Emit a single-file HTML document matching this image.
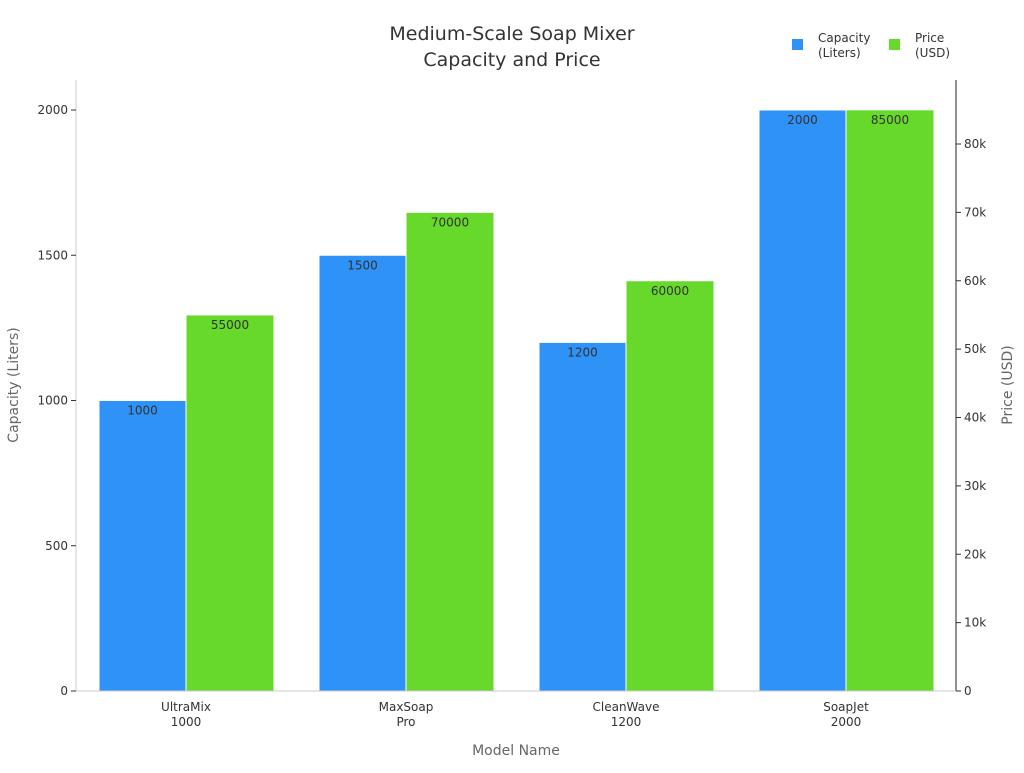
<!DOCTYPE html>
<html><head><meta charset="utf-8"><style>
body{margin:0;background:#fff;}
svg text{font-family:"DejaVu Sans","Liberation Sans",sans-serif;}
</style></head><body>
<svg id="c" width="1024" height="768" xmlns="http://www.w3.org/2000/svg">
<text x="512" y="40" text-anchor="middle" font-size="19" fill="#333">Medium-Scale Soap Mixer</text>
<text x="512" y="66" text-anchor="middle" font-size="19" fill="#333">Capacity and Price</text>
<g>
<rect x="792" y="39" width="11" height="11" fill="#2f92f7"/>
<text x="818" y="42" font-size="12" fill="#333">Capacity</text>
<text x="818" y="57" font-size="12" fill="#333">(Liters)</text>
<rect x="889" y="39" width="11" height="11" fill="#66d92a"/>
<text x="915" y="42" font-size="12" fill="#333">Price</text>
<text x="915" y="57" font-size="12" fill="#333">(USD)</text>
</g>
<g id="plot"></g>
<text x="516" y="755" text-anchor="middle" font-size="14" fill="#666">Model Name</text>
<text transform="translate(18,385) rotate(-90)" text-anchor="middle" font-size="14" fill="#666">Capacity (Liters)</text>
<text transform="translate(1012,385) rotate(-90)" text-anchor="middle" font-size="14" fill="#666">Price (USD)</text>
</svg>
<script>
const categories=[["UltraMix","1000"],["MaxSoap","Pro"],["CleanWave","1200"],["SoapJet","2000"]];
const capacity=[1000,1500,1200,2000];
const price=[55000,70000,60000,85000];
const leftTicks=[0,500,1000,1500,2000];
const rightTicks=[0,10000,20000,30000,40000,50000,60000,70000,80000];
const NS="http://www.w3.org/2000/svg";
const g=document.getElementById('plot');
const x0=76,x1=956,yB=691;
const yL=v=>yB-v*(581/2000);
const yR=v=>yB-v*(547/80000);
const band=(x1-x0)/categories.length;
function el(t,a,txt){const e=document.createElementNS(NS,t);for(const k in a)e.setAttribute(k,a[k]);if(txt!==undefined)e.textContent=txt;g.appendChild(e);return e;}
categories.forEach((c,i)=>{
 const cx=x0+band*(i+0.5);
 let b=el('rect',{x:cx-87,y:yL(capacity[i]),width:87,height:yB-yL(capacity[i]),fill:'#2f92f7',stroke:'#fff','stroke-width':1});
 
 
 let t=el('text',{x:cx-43.5,y:yL(capacity[i])+14,'text-anchor':'middle','font-size':12,fill:'#333'},String(capacity[i]));
 
 
 let b2=el('rect',{x:cx,y:yR(price[i]),width:88,height:yB-yR(price[i]),fill:'#66d92a',stroke:'#fff','stroke-width':1});
 
 
 let t2=el('text',{x:cx+44,y:yR(price[i])+14,'text-anchor':'middle','font-size':12,fill:'#333'},String(price[i]));
 
 
 c.forEach((s,j)=>{let l=el('text',{x:cx,y:711+j*15,'text-anchor':'middle','font-size':12,fill:'#333'},s);
  
  });
});
let a=el('line',{x1:x0,y1:80,x2:x0,y2:yB,stroke:'#ccc'});


let a2=el('line',{x1:x1,y1:80,x2:x1,y2:yB,stroke:'#222'});


let a3=el('line',{x1:x0,y1:yB,x2:x1,y2:yB,stroke:'#ccc'});


leftTicks.forEach(v=>{const y=yL(v);
 el('line',{x1:x0-5,y1:y,x2:x0,y2:y,stroke:'#333'});
 let t=el('text',{x:x0-8,y:y+4,'text-anchor':'end','font-size':12,fill:'#333'},String(v));
 
 });
rightTicks.forEach(v=>{const y=yR(v);
 el('line',{x1:x1,y1:y,x2:x1+5,y2:y,stroke:'#333'});
 let t=el('text',{x:x1+8,y:y+4,'font-size':12,fill:'#333'},v===0?'0':(v/1000)+'k');
 
 });
</script>
</body></html>
